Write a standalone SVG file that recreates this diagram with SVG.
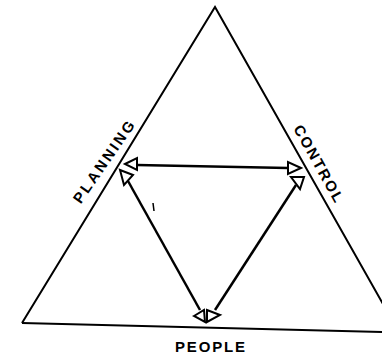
<svg xmlns="http://www.w3.org/2000/svg" width="382" height="356" viewBox="0 0 382 356">
<style>
.frame{fill:none;stroke:#000;stroke-width:2;stroke-linejoin:miter}
.conn{fill:none;stroke:#000;stroke-width:2.5;stroke-linecap:butt}
.head{fill:#fff;stroke:#000;stroke-width:2;stroke-linejoin:miter}
.lbl{font-family:"Liberation Sans",Arial,sans-serif;font-size:15px;font-weight:bold;fill:#000}
</style>
<rect width="382" height="356" fill="#fff"/>
<g id="triangle">
<path class="frame" d="M22,323 L215,7 L392,320"/>
<path class="frame" d="M22,323 L382,332"/>
</g>
<g id="planning">
<text class="lbl" x="108" y="165" text-anchor="middle" textLength="96" lengthAdjust="spacing" transform="rotate(-55.4 108 165)">PLANNING</text>
</g>
<g id="control">
<text class="lbl" x="314" y="166" text-anchor="middle" textLength="86" lengthAdjust="spacing" transform="rotate(60.8 314 166)">CONTROL</text>
</g>
<g id="people">
<text class="lbl" x="210" y="352" text-anchor="middle" textLength="70" lengthAdjust="spacing">PEOPLE</text>
</g>
<g id="connectors">
<path class="conn" d="M137,165 L288,168"/>
<path class="conn" d="M128,181 L200,310"/>
<path class="conn" d="M296,185 L215,310"/>
<polygon class="head" points="125,164 137,158 137,170"/>
<polygon class="head" points="301,168 288,162 288,174"/>
<polygon class="head" points="120,170 133,175 124,185"/>
<polygon class="head" points="304,177 291,177 300,189"/>
<polygon class="head" points="194,316 204,310 205,322"/>
<polygon class="head" points="220,315 207,310 207,322"/>
<path d="M153,203 L154,211" stroke="#000" stroke-width="1.5"/>
</g>
</svg>
